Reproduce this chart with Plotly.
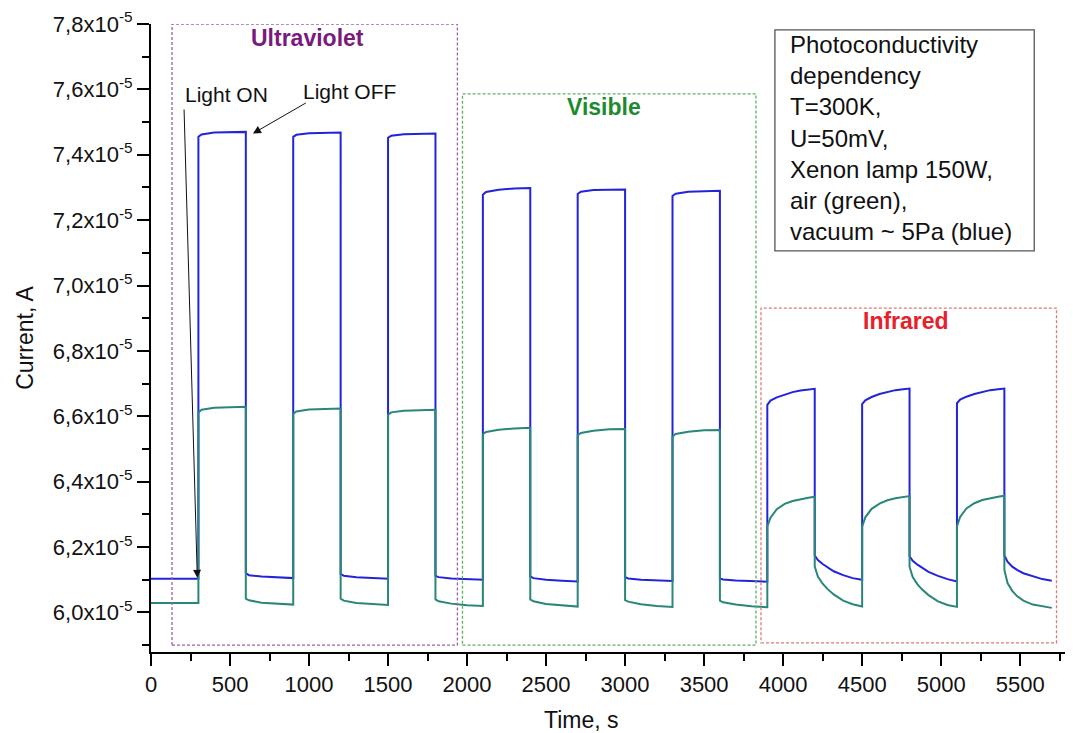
import plotly.graph_objects as go

# ---- data (current in units of 1e-5 A) ----
time_s = [
    0, 300,
    300, 320, 400, 500, 600,
    600, 620, 700, 800, 900,
    900, 920, 1000, 1100, 1200,
    1200, 1220, 1300, 1400, 1500,
    1500, 1520, 1600, 1700, 1800,
    1800, 1820, 1900, 2000, 2100,
    2100, 2120, 2200, 2300, 2400,
    2400, 2420, 2500, 2600, 2700,
    2700, 2720, 2800, 2900, 3000,
    3000, 3020, 3100, 3200, 3300,
    3300, 3320, 3400, 3500, 3600,
    3600, 3620, 3700, 3800, 3900,
    3900, 3920, 3960, 4010, 4060, 4110, 4160, 4200,
    4200, 4220, 4250, 4280, 4320, 4380, 4440, 4500,
    4500, 4520, 4560, 4610, 4660, 4710, 4760, 4800,
    4800, 4820, 4850, 4880, 4920, 4980, 5040, 5100,
    5100, 5120, 5160, 5210, 5260, 5310, 5360, 5400,
    5400, 5420, 5450, 5480, 5520, 5580, 5640, 5700,
]

vacuum_current = [
    6.103, 6.103,
    7.455, 7.462, 7.468, 7.470, 7.470,
    6.120, 6.114, 6.110, 6.107, 6.105,
    7.455, 7.461, 7.466, 7.468, 7.468,
    6.118, 6.112, 6.108, 6.105, 6.103,
    7.452, 7.458, 7.463, 7.465, 7.465,
    6.112, 6.108, 6.104, 6.101, 6.100,
    7.278, 7.286, 7.293, 7.297, 7.298,
    6.110, 6.105, 6.100, 6.097, 6.095,
    7.280, 7.287, 7.292, 7.294, 7.294,
    6.108, 6.104, 6.100, 6.097, 6.096,
    7.274, 7.281, 7.287, 7.289, 7.290,
    6.104, 6.101, 6.098, 6.095, 6.094,
    6.635, 6.648, 6.658, 6.667, 6.674, 6.679, 6.682, 6.684,
    6.174, 6.160, 6.148, 6.138, 6.126, 6.114, 6.105, 6.100,
    6.637, 6.649, 6.659, 6.668, 6.675, 6.680, 6.683, 6.685,
    6.172, 6.158, 6.146, 6.136, 6.124, 6.112, 6.102, 6.095,
    6.640, 6.651, 6.660, 6.668, 6.675, 6.680, 6.683, 6.685,
    6.174, 6.155, 6.140, 6.130, 6.120, 6.110, 6.102, 6.097,
]

air_current = [
    6.029, 6.029,
    6.612, 6.620, 6.626, 6.628, 6.629,
    6.042, 6.037, 6.030, 6.026, 6.024,
    6.608, 6.615, 6.621, 6.623, 6.624,
    6.042, 6.036, 6.029, 6.025, 6.023,
    6.605, 6.612, 6.617, 6.619, 6.620,
    6.040, 6.034, 6.027, 6.022, 6.020,
    6.545, 6.552, 6.559, 6.563, 6.565,
    6.040, 6.034, 6.026, 6.021, 6.018,
    6.542, 6.549, 6.556, 6.560, 6.561,
    6.038, 6.033, 6.025, 6.020, 6.017,
    6.538, 6.546, 6.553, 6.557, 6.558,
    6.036, 6.031, 6.024, 6.019, 6.016,
    6.263, 6.290, 6.316, 6.332, 6.341, 6.347, 6.351, 6.354,
    6.140, 6.110, 6.088, 6.072, 6.055, 6.036, 6.025, 6.018,
    6.262, 6.291, 6.317, 6.333, 6.343, 6.349, 6.353, 6.356,
    6.140, 6.108, 6.086, 6.070, 6.053, 6.034, 6.023, 6.017,
    6.263, 6.292, 6.318, 6.334, 6.344, 6.350, 6.354, 6.357,
    6.130, 6.090, 6.066, 6.050, 6.036, 6.024, 6.018, 6.014,
]

y_tick_vals = [6.0, 6.2, 6.4, 6.6, 6.8, 7.0, 7.2, 7.4, 7.6, 7.8]
y_tick_text = ["6,0x10<sup>-5</sup>", "6,2x10<sup>-5</sup>", "6,4x10<sup>-5</sup>",
               "6,6x10<sup>-5</sup>", "6,8x10<sup>-5</sup>", "7,0x10<sup>-5</sup>",
               "7,2x10<sup>-5</sup>", "7,4x10<sup>-5</sup>", "7,6x10<sup>-5</sup>",
               "7,8x10<sup>-5</sup>"]
x_tick_vals = [0, 500, 1000, 1500, 2000, 2500, 3000, 3500, 4000, 4500, 5000, 5500]

info_lines = ["Photoconductivity", "dependency", "T=300K,", "U=50mV,",
              "Xenon lamp 150W,", "air (green),", "vacuum ~ 5Pa (blue)"]

FONT = "Liberation Sans, Arial, sans-serif"
BLUE = "rgb(35,35,220)"
TEAL = "rgb(40,135,120)"

fig = go.Figure()
fig.add_trace(go.Scatter(x=time_s, y=vacuum_current, mode="lines",
                         line=dict(color=BLUE, width=2), name="vacuum ~ 5Pa"))
fig.add_trace(go.Scatter(x=time_s, y=air_current, mode="lines",
                         line=dict(color=TEAL, width=2), name="air"))

# region boxes
boxes = [
    dict(x0=133, x1=1939, y0=5.90, y1=7.80, color="#A060A8"),
    dict(x0=1971, x1=3828, y0=5.90, y1=7.586, color="#60B060"),
    dict(x0=3860, x1=5730, y0=5.907, y1=6.931, color="#E07878"),
]
for b in boxes:
    fig.add_shape(type="rect", xref="x", yref="y", x0=b["x0"], x1=b["x1"],
                  y0=b["y0"], y1=b["y1"],
                  line=dict(color=b["color"], width=1.3, dash="3px,2px"))

# info box
fig.add_shape(type="rect", xref="x", yref="y", x0=3948, x1=5589, y0=7.106, y1=7.782,
              line=dict(color="#555555", width=1.3), fillcolor="white", layer="above")
fig.add_annotation(x=4030, y=7.784, xref="x", yref="y", xanchor="left", yanchor="top",
                   align="left", showarrow=False, text="<br>".join(info_lines),
                   font=dict(family=FONT, size=24, color="#111111"))

# region labels
fig.add_annotation(x=988, y=7.757, text="<b>Ultraviolet</b>", showarrow=False,
                   font=dict(family=FONT, size=23, color="#7A1A7E"))
fig.add_annotation(x=2865, y=7.546, text="<b>Visible</b>", showarrow=False,
                   font=dict(family=FONT, size=23, color="#1E8A2E"))
fig.add_annotation(x=4779, y=6.892, text="<b>Infrared</b>", showarrow=False,
                   font=dict(family=FONT, size=23, color="#E8202A"))

# light on/off labels and arrows
fig.add_annotation(x=475, y=7.583, text="Light ON", showarrow=False,
                   font=dict(family=FONT, size=21, color="#111111"))
fig.add_annotation(x=1255, y=7.595, text="Light OFF", showarrow=False,
                   font=dict(family=FONT, size=21, color="#111111"))
fig.add_annotation(x=293, y=6.106, ax=209, ay=7.543, xref="x", yref="y",
                   axref="x", ayref="y", text="", showarrow=True,
                   arrowhead=2, arrowsize=1.6, arrowwidth=1, arrowcolor="#111111")
fig.add_annotation(x=645, y=7.465, ax=989, ay=7.561, xref="x", yref="y",
                   axref="x", ayref="y", text="", showarrow=True,
                   arrowhead=2, arrowsize=1.6, arrowwidth=1, arrowcolor="#111111")

# x-axis title (placed off-centre as in the original)
fig.add_annotation(x=2725, y=-0.108, xref="x", yref="paper", text="Time, s",
                   showarrow=False, yanchor="middle",
                   font=dict(family=FONT, size=23, color="#111111"))

# page body has an 8px margin, so the figure is laid out 8px smaller
fig.update_layout(
    width=1065, height=725,
    margin=dict(l=143, r=7, t=16, b=81, autoexpand=False),
    plot_bgcolor="white", paper_bgcolor="white",
    showlegend=False,
    font=dict(family=FONT, size=21, color="#111111"),
    xaxis=dict(range=[0, 5790], showgrid=False, zeroline=False, automargin=False,
               showline=True, linecolor="black", linewidth=2,
               ticks="outside", ticklen=12, tickwidth=2, tickcolor="black",
               tickmode="array", tickvals=x_tick_vals,
               tickfont=dict(family=FONT, size=22),
               minor=dict(ticks="outside", ticklen=7, tickwidth=2, tickcolor="black",
                          tickmode="linear", tick0=250, dtick=500)),
    yaxis=dict(range=[5.879, 7.8], showgrid=False, zeroline=False, automargin=False,
               showline=True, linecolor="black", linewidth=2,
               ticks="outside", ticklen=12, tickwidth=2, tickcolor="black",
               tickmode="array", tickvals=y_tick_vals, ticktext=y_tick_text,
               tickfont=dict(family=FONT, size=22),
               minor=dict(ticks="outside", ticklen=7, tickwidth=2, tickcolor="black",
                          tickmode="linear", tick0=5.9, dtick=0.2),
               title=dict(text="Current, A", font=dict(family=FONT, size=23), standoff=13)),
)

fig.write_html("out.html")
